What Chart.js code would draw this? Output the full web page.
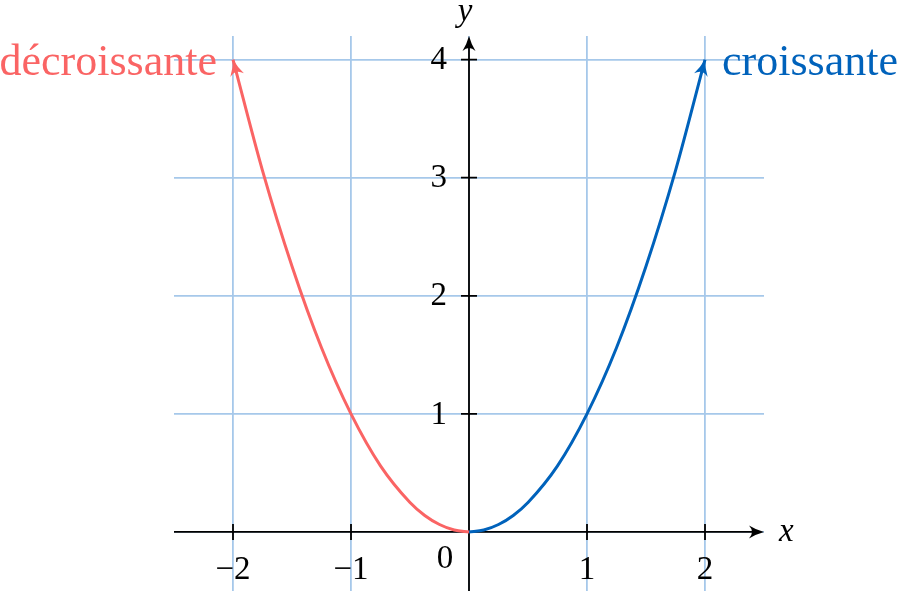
<!DOCTYPE html>
<html>
<head>
<meta charset="utf-8">
<script src="https://cdn.jsdelivr.net/npm/chart.js@4.4.1/dist/chart.umd.min.js"></script>
<style>
  html, body { margin: 0; padding: 0; background: #fff; }
  #wrap { width: 897px; height: 592px; position: relative; }
</style>
</head>
<body>
<div id="wrap"><canvas id="chart"></canvas></div>
<script>
// Points (y = x², two branches)
const decreasingX = [-2, -1.75, -1.5, -1.25, -1, -0.75, -0.5, -0.375, -0.25, -0.125, 0];
const decreasingY = [4, 3.06, 2.25, 1.56, 1, 0.56, 0.25, 0.14, 0.063, 0.016, 0];
const increasingX = [0, 0.125, 0.25, 0.375, 0.5, 0.75, 1, 1.25, 1.5, 1.75, 2];
const increasingY = [0, 0.016, 0.063, 0.14, 0.25, 0.56, 1, 1.56, 2.25, 3.06, 4];

const xTicks = [-2, -1, 1, 2];
const yTicks = [1, 2, 3, 4];
const xRange = [-2.5, 2.5];
const yRange = [-0.5, 4.2];

const RED = '#fa6464';
const BLUE = '#0062bb';
const GRID = '#a6c8ea';
const SERIF = '"Liberation Serif", "DejaVu Serif", serif';

const toPoints = (xs, ys) => xs.map((x, i) => ({x, y: ys[i]}));

// Filled LaTeX-ish arrow head, tip at (x, y), pointing along angle
function arrowHead(c, x, y, angle, color, len, half) {
    c.save();
    c.translate(x, y);
    c.rotate(angle);
    c.fillStyle = color;
    c.beginPath();
    c.moveTo(0, 0);
    c.quadraticCurveTo(-len * 0.55, half * 0.35, -len, half);
    c.quadraticCurveTo(-len * 0.6, 0, -len, -half);
    c.quadraticCurveTo(-len * 0.55, -half * 0.35, 0, 0);
    c.closePath();
    c.fill();
    c.restore();
}

const axesPlugin = {
    id: 'axes',
    beforeDatasetsDraw(chart) {
        const {ctx: c, chartArea: {left, right, top, bottom}, scales: {x, y}} = chart;
        const x0 = x.getPixelForValue(0);
        const y0 = y.getPixelForValue(0);
        c.save();
        c.strokeStyle = '#000';
        c.lineWidth = 1.8;
        c.beginPath();
        c.moveTo(left, y0);
        c.lineTo(right - 6, y0);
        c.moveTo(x0, bottom);
        c.lineTo(x0, top + 6);
        xTicks.forEach(v => {
            const px = x.getPixelForValue(v);
            c.moveTo(px, y0 - 8);
            c.lineTo(px, y0 + 8);
        });
        yTicks.forEach(v => {
            const py = y.getPixelForValue(v);
            c.moveTo(x0 - 8, py);
            c.lineTo(x0 + 8, py);
        });
        c.stroke();
        arrowHead(c, right, y0, 0, '#000', 15, 6.5);
        arrowHead(c, x0, top, -Math.PI / 2, '#000', 15, 6.5);

        // tick labels
        c.fillStyle = '#000';
        c.font = '33px ' + SERIF;
        c.textBaseline = 'middle';
        c.textAlign = 'center';
        xTicks.forEach(v => {
            const txt = v < 0 ? '\u2212' + Math.abs(v) : String(v);
            c.fillText(txt, x.getPixelForValue(v), y0 + 38);
        });
        c.textAlign = 'right';
        yTicks.forEach(v => {
            c.fillText(String(v), x0 - 22, y.getPixelForValue(v) + 1);
        });
        c.textAlign = 'center';
        c.fillText('0', x0 - 24, y0 + 27);

        // axis names
        c.font = 'italic 33px ' + SERIF;
        c.textAlign = 'left';
        c.fillText('x', right + 15, y0);
        c.textAlign = 'center';
        c.fillText('y', x0 - 4, top - 24);
        c.restore();
    },
    afterDatasetsDraw(chart) {
        const {ctx: c, scales: {x, y}} = chart;
        const ends = [[decreasingX, decreasingY, RED], [increasingX, increasingY, BLUE]];
        ends.forEach(([xs, ys, color], k) => {
            // red branch ends at its first point, blue at its last
            const i = k === 0 ? 0 : xs.length - 1;
            const j = k === 0 ? 1 : xs.length - 2;
            const tx = x.getPixelForValue(xs[i]), ty = y.getPixelForValue(ys[i]);
            const px = x.getPixelForValue(xs[j]), py = y.getPixelForValue(ys[j]);
            arrowHead(c, tx, ty, Math.atan2(ty - py, tx - px), color, 16, 7);
        });

        const yTop = y.getPixelForValue(4);
        c.save();
        c.font = '44px ' + SERIF;
        c.textBaseline = 'alphabetic';
        c.fillStyle = RED;
        c.textAlign = 'right';
        c.fillText('décroissante', x.getPixelForValue(-2) - 16, yTop + 15);
        c.fillStyle = BLUE;
        c.textAlign = 'left';
        c.fillText('croissante', x.getPixelForValue(2) + 17, yTop + 15);
        c.restore();
    }
};

const scaleBase = {
    type: 'linear',
    ticks: {display: false},
    border: {display: false},
    grid: {color: GRID, lineWidth: 1.8, drawTicks: false},
};

new Chart(document.getElementById('chart'), {
    type: 'scatter',
    data: {
        datasets: [
            {
                data: toPoints(decreasingX, decreasingY),
                borderColor: RED,
                borderWidth: 3,
                showLine: true,
                pointRadius: 0,
                cubicInterpolationMode: 'monotone',
            },
            {
                data: toPoints(increasingX, increasingY),
                borderColor: BLUE,
                borderWidth: 3,
                showLine: true,
                pointRadius: 0,
                cubicInterpolationMode: 'monotone',
            },
        ],
    },
    options: {
        responsive: true,
        maintainAspectRatio: false,
        animation: false,
        layout: {padding: {left: 174, right: 133, top: 36, bottom: 1}},
        plugins: {legend: {display: false}, tooltip: {enabled: false}},
        scales: {
            x: {
                ...scaleBase,
                min: xRange[0], max: xRange[1],
                afterBuildTicks: s => { s.ticks = [-2, -1, 0, 1, 2].map(value => ({value})); },
            },
            y: {
                ...scaleBase,
                min: yRange[0], max: yRange[1],
                afterBuildTicks: s => { s.ticks = [0, 1, 2, 3, 4].map(value => ({value})); },
            },
        },
    },
    plugins: [axesPlugin],
});
</script>
</body>
</html>
